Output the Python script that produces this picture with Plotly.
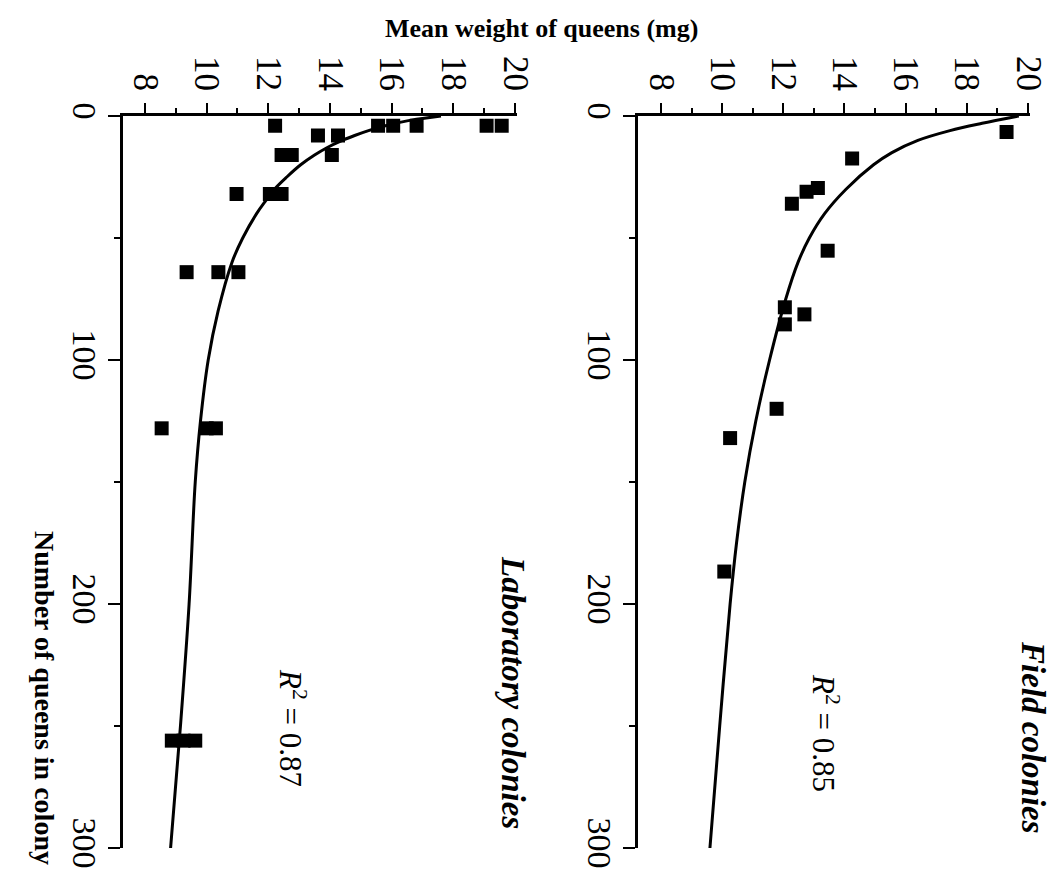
import plotly.graph_objects as go

W, H = 1059, 873

# ---- data ----
# Field colonies: number of queens, mean weight (mg)
field_n = [6.6, 17.4, 29.5, 31, 36, 55.2, 78.4, 81.3, 85.4, 120, 132, 186.7]
field_w = [19.3, 14.25, 13.13, 12.76, 12.28, 13.45, 12.05, 12.69, 12.05, 11.78, 10.26, 10.07]
# fitted curve
field_fit_n = [0, 3, 6, 10, 15, 20, 30, 40, 50, 60, 75, 100, 125, 150, 175, 200, 250, 300]
field_fit_w = [19.7, 18.5, 17.45, 16.4, 15.55, 14.95, 14.05, 13.35, 12.85, 12.48, 12.08, 11.55, 11.1, 10.74, 10.47, 10.26, 9.92, 9.6]

# Laboratory colonies
lab_n = [4, 4, 4, 4, 4, 4, 8, 8, 16, 16, 16, 32, 32, 32, 64, 64, 64, 128, 128, 128, 256, 256, 256]
lab_w = [12.22, 15.56, 16.05, 16.81, 19.08, 19.57, 13.61, 14.26, 12.43, 12.76, 14.06,
         10.97, 12.05, 12.43, 9.35, 10.38, 11.03, 8.54, 10.0, 10.3, 8.87, 9.25, 9.63]
lab_fit_n = [0, 2, 4, 6, 8, 10, 13, 16, 20, 25, 30, 35, 40, 50, 60, 80, 100, 125, 150, 200, 250, 300]
lab_fit_w = [17.6, 16.5, 15.8, 15.25, 14.8, 14.4, 13.9, 13.5, 13.05, 12.6, 12.2, 11.9, 11.62, 11.17, 10.82,
             10.37, 10.05, 9.8, 9.63, 9.43, 9.15, 8.83]

weight_ticks = [8, 10, 12, 14, 16, 18, 20]
number_ticks = [0, 100, 200, 300]

FONT = "Liberation Serif"

def px(x):
    return x / W

def py(y):
    return 1 - y / H

fig = go.Figure()

line_style = dict(color="black", width=3, shape="spline", smoothing=1.0)
marker_style = dict(symbol="square", size=14, color="black")

# left panel = laboratory (x, y); right panel = field (x2, y2)
fig.add_trace(go.Scatter(x=lab_fit_w, y=lab_fit_n, mode="lines", line=line_style,
                         xaxis="x", yaxis="y", hoverinfo="skip"))
fig.add_trace(go.Scatter(x=lab_w, y=lab_n, mode="markers", marker=marker_style,
                         xaxis="x", yaxis="y"))
fig.add_trace(go.Scatter(x=field_fit_w, y=field_fit_n, mode="lines", line=line_style,
                         xaxis="x2", yaxis="y2", hoverinfo="skip"))
fig.add_trace(go.Scatter(x=field_w, y=field_n, mode="markers", marker=marker_style,
                         xaxis="x2", yaxis="y2"))

xcommon = dict(side="top", automargin=False, showgrid=False, zeroline=False, showline=True,
               linecolor="black", linewidth=2.5,
               ticks="outside", ticklen=10, tickwidth=2, tickcolor="black", tickangle=90,
               tickvals=weight_ticks, ticktext=[str(v) for v in weight_ticks],
               tickfont=dict(family=FONT, size=35, color="black"),
               minor=dict(dtick=1, tick0=0, ticks="outside", ticklen=5, tickwidth=2, tickcolor="black"))
ycommon = dict(range=[300, 0], automargin=False, showgrid=False, zeroline=False, showline=True,
               linecolor="black", linewidth=2.5,
               ticks="outside", ticklen=12, tickwidth=2, tickcolor="black", tickangle=90,
               ticklabelstandoff=-6,
               tickvals=number_ticks, ticktext=[str(v) for v in number_ticks],
               tickfont=dict(family=FONT, size=34, color="black"),
               minor=dict(tickvals=[50, 150, 250], ticks="outside", ticklen=6, tickwidth=2, tickcolor="black"),
               domain=[py(848), py(116)])

fig.update_layout(
    width=W, height=H, margin=dict(l=0, r=0, t=0, b=0, autoexpand=False),
    paper_bgcolor="white", plot_bgcolor="white", showlegend=False,
    xaxis=dict(xcommon, range=[7.2864, 20.05], domain=[px(123), px(516.5)], anchor="y"),
    yaxis=dict(ycommon, anchor="x"),
    xaxis2=dict(xcommon, range=[7.248, 20.05], domain=[px(638), px(1029.5)], anchor="y2"),
    yaxis2=dict(ycommon, anchor="x2"),
)

ann = [
    dict(text="<b>Mean weight of queens (mg)</b>", x=px(541), y=py(29), size=26, angle=0),
    dict(text="<b>Number of queens in colony</b>", x=px(45), y=py(698), size=28, angle=90),
    dict(text="<b><i>Field colonies</i></b>", x=px(1033), y=py(737), size=33, angle=90),
    dict(text="<b><i>Laboratory colonies</i></b>", x=px(513), y=py(692), size=33, angle=90),
    dict(text="<i>R</i><sup>2</sup> = 0.85", x=px(826), y=py(733), size=31, angle=90),
    dict(text="<i>R</i><sup>2</sup> = 0.87", x=px(293), y=py(728), size=31, angle=90),
]
for a in ann:
    fig.add_annotation(text=a["text"], x=a["x"], y=a["y"], xref="paper", yref="paper",
                       xanchor="center", yanchor="middle", showarrow=False, textangle=a["angle"],
                       font=dict(family=FONT, size=a["size"], color="black"))

fig.write_html("out.html")
